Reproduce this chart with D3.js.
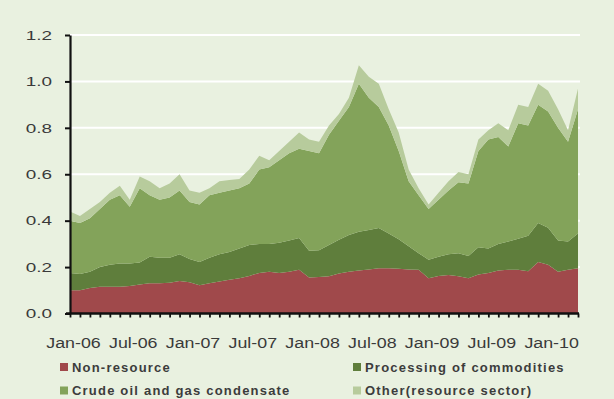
<!DOCTYPE html>
<html><head><meta charset="utf-8">
<script src="https://cdn.jsdelivr.net/npm/d3@7"></script>
<style>
html,body{margin:0;padding:0;background:#e9f1e0;}
svg{display:block;font-family:"Liberation Sans",Arial,sans-serif;}
</style></head>
<body>
<svg id="chart" width="614" height="399"></svg>
<script>
const months = ["Jan-06","Feb-06","Mar-06","Apr-06","May-06","Jun-06","Jul-06","Aug-06","Sep-06","Oct-06","Nov-06","Dec-06",
"Jan-07","Feb-07","Mar-07","Apr-07","May-07","Jun-07","Jul-07","Aug-07","Sep-07","Oct-07","Nov-07","Dec-07",
"Jan-08","Feb-08","Mar-08","Apr-08","May-08","Jun-08","Jul-08","Aug-08","Sep-08","Oct-08","Nov-08","Dec-08",
"Jan-09","Feb-09","Mar-09","Apr-09","May-09","Jun-09","Jul-09","Aug-09","Sep-09","Oct-09","Nov-09","Dec-09",
"Jan-10","Feb-10","Mar-10","Apr-10"];
const xTickLabels = ["Jan-06","Jul-06","Jan-07","Jul-07","Jan-08","Jul-08","Jan-09","Jul-09","Jan-10"];
const yTicks = [0,0.2,0.4,0.6,0.8,1.0,1.2];
const seriesNames = ["Non-resource","Processing of commodities","Crude oil and gas condensate","Other(resource sector)"];
const colors = ["#a0494b","#5f7e3c","#83a35a","#b7cb9c"];

const nonResource = [0.100,0.100,0.110,0.115,0.115,0.115,0.118,0.125,0.130,0.130,0.132,0.140,
0.135,0.122,0.130,0.138,0.145,0.152,0.162,0.175,0.180,0.175,0.180,0.188,
0.155,0.157,0.160,0.172,0.180,0.185,0.190,0.195,0.195,0.193,0.190,0.188,
0.152,0.162,0.166,0.160,0.152,0.168,0.175,0.185,0.188,0.188,0.182,0.222,
0.210,0.180,0.188,0.195];
const processing = [0.075,0.070,0.070,0.085,0.095,0.100,0.097,0.095,0.115,0.110,0.108,0.115,
0.100,0.100,0.110,0.117,0.120,0.128,0.133,0.125,0.120,0.130,0.135,0.137,
0.115,0.115,0.135,0.146,0.158,0.167,0.170,0.173,0.150,0.127,0.100,0.072,
0.080,0.083,0.089,0.100,0.096,0.117,0.105,0.115,0.122,0.134,0.153,0.168,
0.160,0.135,0.122,0.150];
const crudeOil = [0.225,0.220,0.230,0.250,0.280,0.295,0.245,0.320,0.265,0.250,0.260,0.275,
0.245,0.248,0.270,0.265,0.265,0.260,0.265,0.320,0.330,0.355,0.375,0.385,
0.430,0.418,0.475,0.512,0.552,0.638,0.570,0.522,0.465,0.380,0.280,0.250,
0.218,0.245,0.275,0.305,0.312,0.415,0.470,0.460,0.410,0.498,0.475,0.510,
0.500,0.485,0.430,0.535];
const otherResource = [0.040,0.030,0.040,0.030,0.030,0.040,0.030,0.050,0.060,0.050,0.060,0.070,
0.050,0.050,0.030,0.050,0.045,0.040,0.060,0.060,0.030,0.040,0.050,0.070,
0.050,0.050,0.040,0.030,0.040,0.080,0.090,0.100,0.070,0.080,0.050,0.030,
0.020,0.030,0.040,0.045,0.040,0.050,0.040,0.060,0.070,0.080,0.080,0.090,
0.090,0.080,0.050,0.090];

const keys = ["nonResource","processing","crudeOil","otherResource"];
const table = months.map((m,i)=>({month:m, nonResource:nonResource[i], processing:processing[i], crudeOil:crudeOil[i], otherResource:otherResource[i]}));

const svg = d3.select("#chart");
const x = d3.scalePoint().domain(months).range([70,578]);
const y = d3.scaleLinear().domain([0,1.2]).range([313.5,35]);

// gridlines
svg.append("g").selectAll("line").data(yTicks.filter(d=>d>0)).join("line")
  .attr("x1",70).attr("x2",580).attr("y1",d=>y(d)).attr("y2",d=>y(d))
  .attr("stroke","#ffffff").attr("stroke-width",2);

// stacked areas
const stacked = d3.stack().keys(keys)(table);
const area = d3.area().x(d=>x(d.data.month)).y0(d=>y(d[0])).y1(d=>y(d[1]));
svg.append("g").selectAll("path").data(stacked).join("path")
  .attr("d",area).attr("fill",(d,i)=>colors[i]);

// y axis
const yAxis = svg.append("g").attr("transform","translate(70,0)")
  .call(d3.axisLeft(y).tickValues(yTicks).tickFormat(d3.format(".1f")).tickSize(5).tickSizeOuter(0));
yAxis.select(".domain").attr("stroke","#111").attr("stroke-width",2.2);
yAxis.selectAll(".tick line").attr("stroke","#111").attr("stroke-width",2);
yAxis.selectAll(".tick text").attr("x",-18/1.4).attr("transform","scale(1.4,1)")
  .attr("font-size",13.5).attr("fill","#3a3a3a");

// x axis
const xAxis = svg.append("g").attr("transform","translate(0,313.5)")
  .call(d3.axisBottom(x).tickValues(months).tickSize(4).tickSizeOuter(0)
    .tickFormat(d=>xTickLabels.includes(d)?d:""));
xAxis.select(".domain").attr("stroke","#111").attr("stroke-width",2.4).attr("d","M66,0H579");
xAxis.selectAll(".tick line").attr("stroke","#111").attr("stroke-width",1.8);
xAxis.selectAll(".tick text").attr("x",3/1.15).attr("y",23).attr("dy","0.71em")
  .attr("transform","scale(1.15,1)").attr("font-size",15.5).attr("fill","#3a3a3a");

// legend
const legendPos = [[60,371.5],[353,371.5],[60,395],[353,395]];
const lg = svg.append("g").selectAll("g").data(seriesNames).join("g")
  .attr("transform",(d,i)=>`translate(${legendPos[i][0]},${legendPos[i][1]})`);
lg.append("rect").attr("x",0).attr("y",-8.5).attr("width",8).attr("height",8).attr("fill",(d,i)=>colors[i]);
lg.append("text").attr("x",12).attr("y",0).text(d=>d)
  .attr("font-size",13).attr("font-weight","bold").attr("letter-spacing",1.2).attr("fill","#3c3c3c");
</script>
</body></html>
